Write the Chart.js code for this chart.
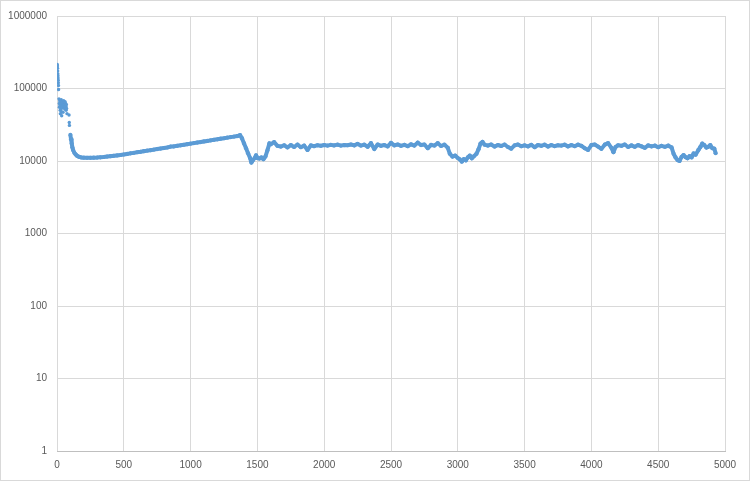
<!DOCTYPE html>
<html>
<head>
<meta charset="utf-8">
<script src="https://cdn.jsdelivr.net/npm/chart.js@4.4.0/dist/chart.umd.min.js"></script>
<style>
  html, body { margin: 0; padding: 0; background: #fff; }
</style>
</head>
<body>
<canvas id="chart" width="750" height="481"></canvas>
<script>
// --- Dados ---
// Pontos soltos do início (x < 100)
const earlyX = [2, 3, 4, 5, 6, 7, 8, 9, 10, 11, 12,
  15, 17, 18, 20, 22, 24, 25, 27, 28, 30, 32, 33, 35, 36, 38, 40, 42, 44, 45, 47, 48,
  50, 52, 54, 55, 57, 58, 60, 62, 63, 65, 67, 68, 70, 72, 75, 90, 92, 93];
const earlyY = [215000, 205000, 190000, 175000, 160000, 150000, 140000, 130000, 120000, 110000, 97000,
  72000, 62000, 55000, 68000, 58000, 50000, 45000, 65000, 60000, 52000, 70000, 48000, 42000, 62000, 56000, 66000, 60000, 54000, 47000, 63000, 58000,
  68000, 61000, 55000, 64000, 59000, 52000, 66000, 60000, 56000, 62000, 57000, 50000, 60000, 53000, 45000, 43000, 34000, 31000];

// Curva principal
const curveX = [100, 105, 110, 115, 120, 130, 140, 150, 165, 180, 200, 225, 250, 275, 300, 325, 350, 375, 400, 425, 450, 475,
  500, 525, 550, 575, 600, 625, 650, 675, 700, 725, 750, 775, 800, 825, 850, 875, 900, 925, 950, 975,
  1000, 1025, 1050, 1075, 1100, 1125, 1150, 1175, 1200, 1225, 1250, 1275, 1300, 1325, 1350, 1370,
  1385, 1400, 1415, 1430, 1445, 1455, 1465, 1480, 1490, 1500, 1515, 1530, 1545, 1560, 1575, 1590,
  1600, 1625, 1650, 1675, 1700, 1725, 1750, 1775, 1800, 1825, 1850, 1875, 1900, 1925, 1950, 1975,
  2000, 2025, 2050, 2075, 2100, 2125, 2150, 2175, 2200, 2225, 2250, 2275, 2300, 2325, 2350, 2375,
  2400, 2425, 2450, 2475, 2500, 2525, 2550, 2575, 2600, 2625, 2650, 2675, 2700, 2725, 2750, 2775,
  2800, 2825, 2850, 2875, 2900, 2925, 2940, 2960, 2980, 3000, 3015, 3030, 3045, 3060, 3075, 3090,
  3105, 3120, 3140, 3155, 3170, 3185, 3200, 3225, 3250, 3275, 3300, 3325, 3350, 3375, 3400, 3425,
  3450, 3475, 3500, 3525, 3550, 3575, 3600, 3625, 3650, 3675, 3700, 3725, 3750, 3775, 3800, 3825,
  3850, 3875, 3900, 3925, 3950, 3975, 4000, 4025, 4050, 4075, 4100, 4125, 4150, 4165, 4180, 4200,
  4225, 4250, 4275, 4300, 4325, 4350, 4375, 4400, 4425, 4450, 4475, 4500, 4525, 4550, 4575, 4600,
  4615, 4630, 4645, 4660, 4675, 4690, 4705, 4720, 4735, 4750, 4765, 4780, 4800, 4815, 4830, 4845,
  4860, 4875, 4890, 4905, 4920, 4930];
const curveY = [23000, 20000, 17500, 15500, 14200, 13000, 12300, 11800, 11400, 11200, 11100, 11050, 11050, 11100, 11150, 11250, 11350, 11500, 11650, 11800, 11950, 12100,
  12300, 12500, 12750, 12950, 13200, 13400, 13650, 13900, 14100, 14350, 14600, 14850, 15100, 15350, 15800, 15900, 16200, 16450, 16750, 17050,
  17350, 17650, 17950, 18250, 18600, 18900, 19250, 19600, 19900, 20300, 20600, 21000, 21350, 21700, 22100, 22800,
  20500, 17500, 15000, 12800, 11000, 9500, 10200, 11000, 12000, 11000, 10800, 11200, 10600, 11500, 14000, 17500,
  17000, 18200, 16200, 15800, 16500, 15400, 16600, 15600, 16900, 15500, 16300, 14200, 16400, 16000, 16500, 16200,
  16600, 16300, 16700, 16400, 16800, 16300, 16600, 16500, 16900, 16400, 17200, 16300, 16800, 15700, 17600, 14600,
  16900, 16200, 16600, 15900, 17800, 16400, 16900, 16200, 16700, 16000, 17000, 16300, 17900, 16600, 16900, 15000,
  16700, 16300, 17600, 16100, 16800, 15200, 12600, 11500, 11900, 11000, 10500, 9800, 10600, 10200, 11200, 11900,
  10900, 11600, 12600, 14500, 17400, 18300, 16800, 16300, 16900, 15800, 16600, 16100, 16900, 15600, 14800, 16400,
  16900, 16000, 16400, 15900, 16700, 15500, 16600, 16200, 16800, 15800, 16600, 16000, 16500, 16300, 16800, 15900,
  16600, 16000, 16800, 16200, 15000, 14200, 16600, 16900, 15800, 14700, 16800, 17600, 15200, 13200, 15500, 16500,
  16200, 16900, 15600, 16400, 15700, 16600, 15900, 15200, 16400, 15900, 16300, 15500, 16200, 15700, 16300, 15400,
  12600, 11200, 10300, 10000, 11400, 12100, 11300, 10900, 11700, 11200, 12700, 12200, 14100, 15500, 17400, 16600,
  15300, 15700, 16600, 15000, 14800, 12800];

// Marcas dos eixos
const yTicks = [1, 10, 100, 1000, 10000, 100000, 1000000];
const xMin = 0, xMax = 5000, xStep = 500;

const corPonto = '#5B9BD5';
const corGrade = '#D9D9D9';
const corTexto = '#595959';

function toPoints(xs, ys) {
    return xs.map((x, i) => ({ x: x, y: ys[i] }));
}

// borda cinza do gráfico (estilo Excel)
const chartBorder = {
    id: 'chartBorder',
    beforeDraw(chart) {
        const ctx = chart.ctx;
        ctx.save();
        ctx.fillStyle = '#fff';
        ctx.fillRect(0, 0, chart.width, chart.height);
        ctx.strokeStyle = corGrade;
        ctx.lineWidth = 1;
        ctx.strokeRect(0.5, 0.5, chart.width - 1, chart.height - 1);
        ctx.restore();
    }
};

new Chart(document.getElementById('chart'), {
    type: 'scatter',
    data: {
        datasets: [
            {
                label: 'inicio',
                data: toPoints(earlyX, earlyY),
                backgroundColor: corPonto,
                borderColor: corPonto,
                pointRadius: 1.7,
                pointBorderWidth: 0,
                showLine: false
            },
            {
                label: 'serie',
                data: toPoints(curveX, curveY),
                backgroundColor: corPonto,
                borderColor: corPonto,
                pointRadius: 2.1,
                pointBorderWidth: 0,
                borderWidth: 4,
                borderJoinStyle: 'round',
                showLine: true,
                tension: 0
            }
        ]
    },
    options: {
        responsive: false,
        animation: false,
        layout: { padding: { top: 13, right: 25, left: 0, bottom: 0 } },
        plugins: {
            legend: { display: false },
            tooltip: { enabled: false }
        },
        scales: {
            x: {
                type: 'linear',
                min: xMin,
                max: xMax,
                ticks: {
                    stepSize: xStep,
                    color: corTexto,
                    font: { family: 'Liberation Sans', size: 10 },
                    padding: 8,
                    maxRotation: 0,
                    callback: (v) => String(v)
                },
                grid: { color: corGrade, drawTicks: false },
                border: { color: '#BFBFBF' },
                afterFit: (scale) => { scale.height = 30; }
            },
            y: {
                type: 'logarithmic',
                min: 1,
                max: 1000000,
                afterBuildTicks: (scale) => {
                    scale.ticks = yTicks.map(v => ({ value: v }));
                },
                ticks: {
                    color: corTexto,
                    font: { family: 'Liberation Sans', size: 10 },
                    padding: 10,
                    callback: (v) => String(v)
                },
                grid: { color: corGrade, drawTicks: false },
                border: { display: false },
                afterFit: (scale) => { scale.width = 57; }
            }
        }
    },
    plugins: [chartBorder]
});
</script>
</body>
</html>
